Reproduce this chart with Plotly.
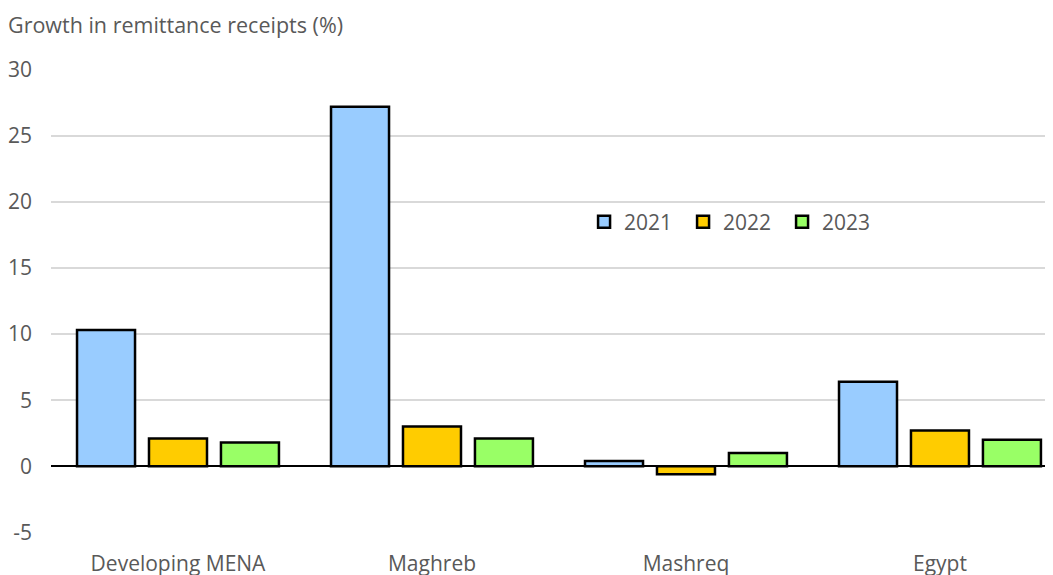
import plotly.graph_objects as go

regions = ["Developing MENA", "Maghreb", "Mashreq", "Egypt"]
years = ["2021", "2022", "2023"]
growth_2021 = [10.3, 27.2, 0.4, 6.4]
growth_2022 = [2.1, 3.0, -0.6, 2.7]
growth_2023 = [1.8, 2.1, 1.0, 2.0]
y_ticks = [-5, 0, 5, 10, 15, 20, 25, 30]
y_tick_labels = ["-5", "0", "5", "10", "15", "20", "25", "30"]

colors = ["#99ccff", "#ffcc00", "#99ff66"]
series = [growth_2021, growth_2022, growth_2023]

fig = go.Figure()
for year, vals, col in zip(years, series, colors):
    fig.add_trace(go.Bar(
        x=regions, y=vals, name=year,
        marker=dict(color=col, line=dict(color="black", width=2.5)),
    ))

grey = "#595959"
text_font = dict(family="Open Sans, Liberation Sans, sans-serif", size=21, color=grey)

# the page body has an 8px default margin, so the margins are trimmed to match
fig.update_layout(
    width=1053, height=575,
    margin=dict(l=43, r=8, t=61, b=50),
    paper_bgcolor="white", plot_bgcolor="white",
    barmode="group", bargap=0.15, bargroupgap=0.194,
    font=text_font,
    showlegend=True,
    legend=dict(orientation="h", x=0.532, y=0.67, xanchor="left", yanchor="middle",
                font=dict(size=21, color=grey), bgcolor="rgba(0,0,0,0)",
                itemwidth=30, entrywidth=54, entrywidthmode="pixels", traceorder="normal"),
    annotations=[dict(text="Growth in remittance receipts (%)", xref="paper", yref="paper",
                      x=-45 / 1002, y=1 + 44 / 464, xanchor="left", yanchor="middle",
                      showarrow=False, font=dict(size=21.5, color=grey))],
)
fig.update_xaxes(range=[-0.5, 3.445], showline=False, ticks="", ticklabelstandoff=16,
                 automargin=False, tickfont=dict(size=21, color=grey))
fig.update_yaxes(range=[-5.05, 30.05], tickvals=y_ticks, ticktext=y_tick_labels,
                 showgrid=True, gridcolor="#d9d9d9",
                 gridwidth=1.5, zeroline=True, zerolinecolor="black", zerolinewidth=2,
                 showline=False, ticks="", ticklabelstandoff=18, automargin=False,
                 tickfont=dict(size=21, color=grey))

fig.write_html("out.html")
